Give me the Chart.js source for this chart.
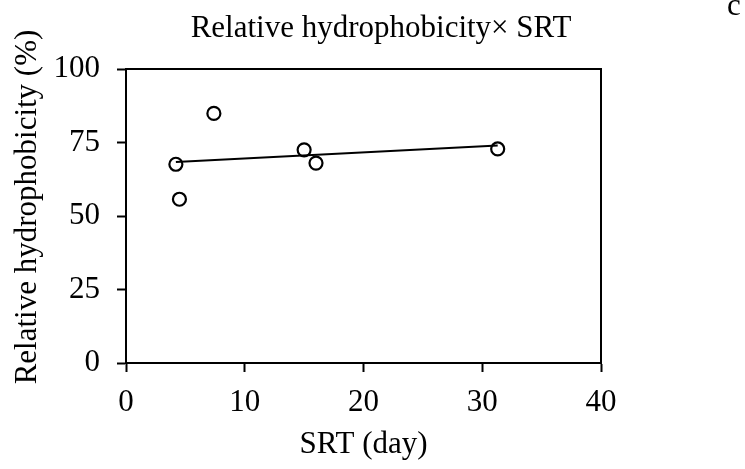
<!DOCTYPE html>
<html>
<head>
<meta charset="utf-8">
<script src="https://cdn.jsdelivr.net/npm/chart.js@4"></script>
<style>
  html, body { margin: 0; padding: 0; background: #fff; }
  #wrap { width: 745px; height: 469px; }
</style>
</head>
<body>
<div id="wrap"><canvas id="myChart" width="745" height="469"></canvas></div>
<script>
// SRT (day) against relative hydrophobicity (%)
var srtDays = [4.2, 4.5, 7.4, 15.0, 16.0, 31.3];
var hydrophobicity = [67.6, 55.7, 84.9, 72.5, 68.0, 72.8];

// linear trend line, start and end
var trendX = [4.2, 31.3];
var trendY = [68.4, 74.0];

var xTicks = [0, 10, 20, 30, 40];
var yTicks = [0, 25, 50, 75, 100];

var serif = '"Liberation Serif", "Times New Roman", serif';

var points = [], trend = [];
for (var i = 0; i < srtDays.length; i++) {
  points.push({ x: srtDays[i], y: hydrophobicity[i] });
}
for (var j = 0; j < trendX.length; j++) {
  trend.push({ x: trendX[j], y: trendY[j] });
}

// frame, title, panel letter and rotated y title
var extras = {
  id: 'extras',
  afterDraw: function(chart) {
    var ctx = chart.ctx, a = chart.chartArea;
    ctx.save();
    ctx.strokeStyle = '#000';
    ctx.lineWidth = 2;
    ctx.beginPath();
    ctx.moveTo(a.left, a.top);
    ctx.lineTo(a.right, a.top);
    ctx.lineTo(a.right, a.bottom);
    ctx.stroke();

    ctx.fillStyle = '#000';
    ctx.font = '31px ' + serif;
    ctx.textAlign = 'center';
    ctx.textBaseline = 'alphabetic';
    ctx.fillText('Relative hydrophobicity\u00d7 SRT', 381, 37);
    ctx.fillText('c', 734, 15);

    ctx.translate(36, 207);
    ctx.rotate(-Math.PI / 2);
    ctx.fillText('Relative hydrophobicity (%)', 0, 0);
    ctx.restore();
  }
};

var ctx = document.getElementById('myChart').getContext('2d');
var myChart = new Chart(ctx, {
  type: 'scatter',
  data: {
    datasets: [{
      label: 'trend',
      data: trend,
      showLine: true,
      borderColor: '#000',
      borderWidth: 2,
      pointRadius: 0,
      fill: false
    }, {
      label: 'Relative hydrophobicity',
      data: points,
      pointStyle: 'circle',
      pointRadius: 6.5,
      pointBorderWidth: 2.2,
      pointBorderColor: '#000',
      pointBackgroundColor: 'rgba(0,0,0,0)',
      borderColor: '#000',
      backgroundColor: 'rgba(0,0,0,0)'
    }]
  },
  options: {
    responsive: false,
    animation: false,
    layout: { padding: { top: 69, right: 144, bottom: 0, left: 0 } },
    plugins: {
      legend: { display: false },
      tooltip: { enabled: false }
    },
    scales: {
      x: {
        type: 'linear',
        min: 0,
        max: 40,
        afterBuildTicks: function(scale) {
          scale.ticks = xTicks.map(function(v) { return { value: v }; });
        },
        afterFit: function(scale) { scale.height = 106; },
        ticks: { color: '#000', font: { family: serif, size: 31 }, padding: 12, maxRotation: 0 },
        grid: { drawOnChartArea: false, tickLength: 9, tickWidth: 2, tickColor: '#000' },
        border: { color: '#000', width: 2 },
        title: {
          display: true,
          text: 'SRT (day)',
          color: '#000',
          font: { family: serif, size: 31 },
          padding: { top: 0, bottom: 6 }
        }
      },
      y: {
        type: 'linear',
        min: 0,
        max: 100,
        afterBuildTicks: function(scale) {
          scale.ticks = yTicks.map(function(v) { return { value: v }; });
        },
        afterFit: function(scale) { scale.width = 126; },
        ticks: { color: '#000', font: { family: serif, size: 31 }, padding: 17 },
        grid: { drawOnChartArea: false, tickLength: 9, tickWidth: 2, tickColor: '#000' },
        border: { color: '#000', width: 2 }
      }
    }
  },
  plugins: [extras]
});
</script>
</body>
</html>
